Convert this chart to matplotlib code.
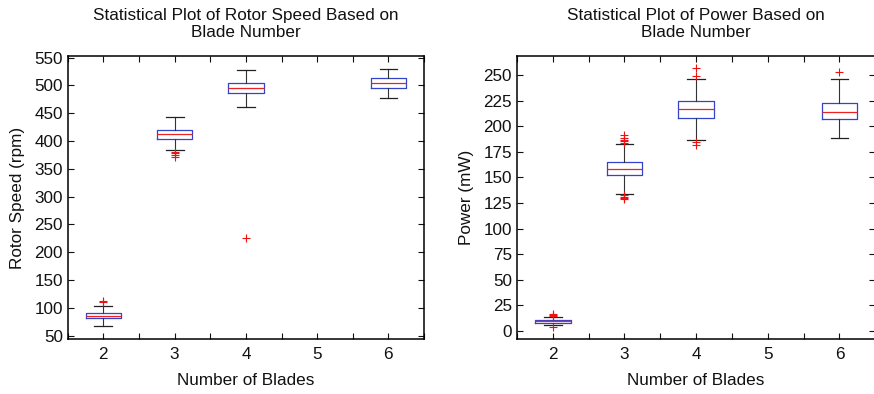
import matplotlib
matplotlib.use("Agg")
import matplotlib.pyplot as plt
from matplotlib.ticker import MultipleLocator

plt.rcParams['font.family'] = ['Liberation Sans', 'DejaVu Sans']

# numero de palas (posiciones de las cajas)
blades = [2, 3, 4, 6]

# velocidad del rotor (rpm)
rpm_med = [86, 412, 496, 504]
rpm_q1 = [81.5, 404.5, 486, 495]
rpm_q3 = [91, 420.5, 503.5, 512.5]
rpm_lo = [67.5, 383.5, 461.5, 477]
rpm_hi = [104, 443.5, 527.5, 529]
rpm_out = [[111, 112], [381, 378, 375, 372], [226.5], []]

# potencia (mW)
pw_med = [9.4, 157.7, 216.3, 214.2]
pw_q1 = [8.2, 151.8, 208.4, 206.8]
pw_q3 = [10.5, 164.5, 224.3, 223]
pw_lo = [5.5, 133.6, 186.3, 188.2]
pw_hi = [13.8, 182.7, 246.4, 245.8]
pw_out = [[14.5, 15.3, 16.2, 4.2],
          [191, 188.5, 186, 185, 184, 132.5, 131, 130, 128.5],
          [256.5, 249.3, 184.5, 181.5],
          [252.6]]


def estadisticas(med, q1, q3, lo, hi, out):
    stats = []
    for i in range(len(med)):
        stats.append(dict(med=med[i], q1=q1[i], q3=q3[i],
                          whislo=lo[i], whishi=hi[i], fliers=out[i]))
    return stats


def grafica(ax, stats, titulo, ylabel, ylim, paso):
    ax.bxp(stats, positions=blades, widths=0.5, showfliers=True,
           boxprops=dict(color='#3344cc', linewidth=0.9),
           medianprops=dict(color='#ee2222', linewidth=0.9),
           whiskerprops=dict(color='#333333', linewidth=0.8),
           capprops=dict(color='#222222', linewidth=0.9),
           capwidths=0.25,
           flierprops=dict(marker='+', markeredgecolor='#ee1111',
                           markersize=6, markeredgewidth=0.8))
    ax.set_xlim(1.5, 6.5)
    ax.set_ylim(*ylim)
    ax.set_xticks([2, 3, 4, 5, 6])
    ax.set_xticklabels(['2', '3', '4', '5', '6'])
    ax.xaxis.set_minor_locator(MultipleLocator(0.5))
    ax.yaxis.set_major_locator(MultipleLocator(paso))
    ax.tick_params(which='both', direction='in', top=True, right=True,
                   length=4, width=0.8, labelsize=12.3, colors='#111111')
    ax.tick_params(axis='x', pad=6)
    for s in ax.spines.values():
        s.set_linewidth(1.1)
    ax.set_title(titulo, fontsize=12.3, color='#111111', pad=14,
                 linespacing=1.1)
    ax.set_xlabel('Number of Blades', fontsize=12.3, color='#111111',
                  labelpad=8)
    ax.set_ylabel(ylabel, fontsize=12.3, color='#111111', labelpad=7)


fig = plt.figure(figsize=(8.74, 3.94), dpi=100)
ax1 = fig.add_axes([0.0775, 0.1396, 0.4077, 0.7184])
ax2 = fig.add_axes([0.5915, 0.1396, 0.4100, 0.7184])

grafica(ax1, estadisticas(rpm_med, rpm_q1, rpm_q3, rpm_lo, rpm_hi, rpm_out),
        'Statistical Plot of Rotor Speed Based on\nBlade Number',
        'Rotor Speed (rpm)', (44, 553), 50)
grafica(ax2, estadisticas(pw_med, pw_q1, pw_q3, pw_lo, pw_hi, pw_out),
        'Statistical Plot of Power Based on\nBlade Number',
        'Power (mW)', (-7.8, 268.5), 25)

fig.savefig('out.png', dpi=100)
